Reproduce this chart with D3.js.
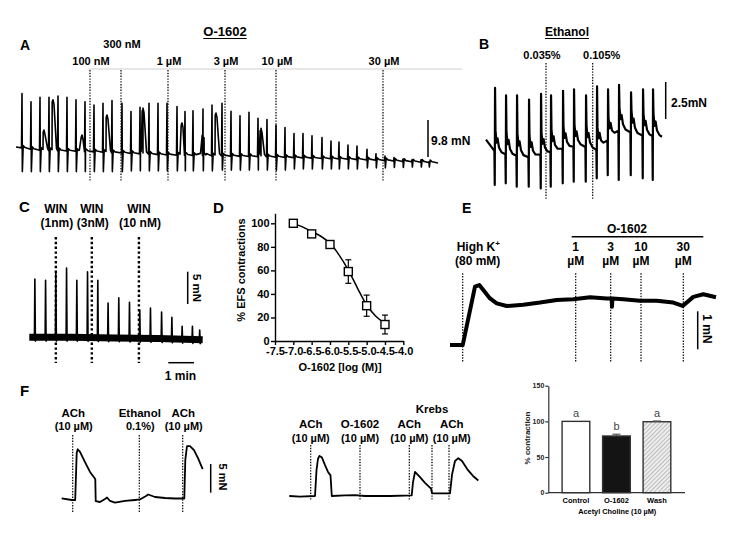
<!DOCTYPE html>
<html>
<head>
<meta charset="utf-8">
<script src="https://cdn.jsdelivr.net/npm/d3@7"></script>
<style>
  body { margin: 0; background: #fff; }
  svg { font-family: "Liberation Sans", Arial, Helvetica, sans-serif; }
</style>
</head>
<body>
<svg id="fig" width="733" height="534"></svg>
<script>
// ---------- panel A : O-1602 on EFS twitches (time in s, force in mN) ----------
const aSpikeT = [6, 15, 24, 33, 42, 51, 60, 69, 78, 87, 96, 106, 115, 124, 133, 142, 151, 161, 169, 177,
  187, 196, 206, 215, 224, 233, 242, 251, 260, 269, 278, 287, 296, 306, 315, 323, 332, 341, 351, 360,
  369, 378, 387, 396, 405, 413];
const aPeak = [21.6, 19.4, 20.6, 20.6, 20.9, 20.6, 19.9, 19.4, 18.5, 19.0, 19.7, 19.0, 16.8, 17.9, 19.0, 19.0,
  19.0, 18.1, 16.8, 17.0, 17.5, 18.5, 19.0, 16.9, 15.7, 16.6, 15.0, 14.7, 13.2, 12.6, 11.0, 11.0, 10.4, 9.9,
  9.0, 8.7, 7.9, 7.7, 6.8, 5.6, 5.0, 4.6, 4.2, 4.0, 4.0, 3.5];
const aTrough = [0.9, 0.9, 0.9, 0.9, 0.9, 0.9, 0.9, 0.9, 0.9, 0.9, 0.9, 0.9, 1.1, 1.1, 1.1, 1.1, 1.1, 1.1,
  1.1, 1.1, 1.1, 1.1, 1.3, 1.3, 1.3, 1.3, 1.3, 1.3, 1.3, 1.3, 1.6, 1.6, 1.6, 1.6, 1.6, 1.6, 1.6, 1.6,
  1.9, 1.9, 1.9, 2.0, 2.0, 2.1, 2.1, 2.1];
const aBaseT = [0, 20, 80, 150, 250, 350, 422];
const aBaseV = [7.4, 6.6, 6.1, 5.3, 4.8, 4.0, 3.2];
const aHumpT = [28, 37, 66, 91, 127, 166, 187, 200, 245];
const aHumpV = [11.9, 19.9, 10.6, 15.9, 17.7, 13.8, 11.1, 16.4, 12.4];
const aDoseLabels = ['100 nM', '300 nM', '1 µM', '3 µM', '10 µM', '30 µM'];
const aDoseT = [74, 105, 152, 209, 260, 367];

// ---------- panel B : ethanol vehicle ----------
const bSpikeT = [9, 20, 31, 43, 55, 65, 77, 88, 100, 111, 122, 133, 145, 157, 167];
const bPeak = [6.9, 6.4, 6.4, 6.1, 6.5, 6.4, 6.7, 6.8, 6.4, 7.0, 6.8, 7.1, 6.6, 6.8, 6.8];
const bTrough = [0.34, 0.45, 0.22, 0.22, 0.11, 0.22, 0.45, 0.56, 0.56, 0.79, 1.0, 0.68, 1.0, 0.79, 0.68];
const bBaseT = [0, 10, 21, 44, 61, 77, 94, 111, 124, 134, 154, 176];
const bBaseV = [3.4, 2.5, 2.4, 2.2, 2.5, 2.8, 3.0, 2.7, 3.5, 4.1, 3.7, 3.6];
const bDoseLabels = ['0.035%', '0.105%'];
const bDoseT = [60, 106.7];

// ---------- panel C : WIN 55,212-2 ----------
const cSpikeT = [13, 38, 62, 87, 111, 136, 160, 184, 209, 234, 258, 283, 309, 333, 357, 381, 398];
const cPeak = [10.2, 10.0, 11.1, 11.9, 10.0, 11.3, 10.0, 6.5, 7.3, 6.6, 5.4, 5.7, 5.1, 4.3, 2.9, 2.9, 2.3];
const cBaseT = [0, 100, 200, 300, 405];
const cBaseV = [1.2, 1.2, 1.1, 1.0, 0.8];
const cDoseTop = ['WIN', 'WIN', 'WIN'];
const cDoseBottom = ['(1nm)', '(3nM)', '(10 nM)'];
const cDoseT = [62, 146, 256];

// ---------- panel D : concentration-response ----------
const dLogC = [-7.0, -6.5, -6.0, -5.5, -5.0, -4.5];
const dMean = [100, 91, 82, 59, 30, 14];
const dSem = [0.5, 2, 2, 10, 9, 8];
const dFitX = [-7.0, -6.75, -6.5, -6.25, -6.0, -5.75, -5.5, -5.25, -5.0, -4.75, -4.5];
const dFitY = [99.5, 97, 93, 89, 83, 73, 60.3, 45, 30.6, 21, 15];
const dXTicks = [-7.5, -7.0, -6.5, -6.0, -5.5, -5.0, -4.5, -4.0];
const dYTicks = [0, 20, 40, 60, 80, 100];

// ---------- panel E : high K+ precontraction ----------
const eT = [0, 12.7, 25, 29.3, 33.3, 40, 46.7, 56.7, 73.3, 90, 106.7, 123.3, 140, 156.7, 161.6, 162,
  162.4, 173.3, 190, 206.7, 223.3, 232.7, 243.3, 253.3, 266];
const eV = [0.11, 0.11, 1.65, 1.69, 1.56, 1.34, 1.21, 1.14, 1.17, 1.23, 1.30, 1.32, 1.37, 1.34, 1.34, 1.12,
  1.34, 1.32, 1.28, 1.28, 1.23, 1.14, 1.38, 1.45, 1.37];
const eDoseTop = ['1', '3', '10', '30'];
const eDoseT = [12.7, 125.7, 160.7, 191, 233.3];

// ---------- panel F : acetylcholine traces ----------
const fLT = [0, 10, 13.5, 15, 16, 18.3, 23.3, 28.3, 33, 33.6, 34, 38.3, 43.3, 45.3, 48.3, 53.3, 63.3, 73.3,
  78.3, 84.3, 86.6, 93.3, 103.3, 113.3, 122.6, 123.6, 125.3, 128.3, 132.3, 136.3, 141];
const fLV = [0.3, 0, 0, 8.2, 8.85, 8.4, 6.6, 4.9, 3.8, 3.6, -0.2, -0.35, 0.17, 0.44, -0.17, -0.44, -0.17, 0,
  0.1, 0.7, 0.96, 0.52, 0.35, 0.26, 0.26, 7.0, 9.4, 9.4, 8.7, 7.3, 5.4];
const fLTop = ['ACh', 'Ethanol', 'ACh'];
const fLBottom = ['(10 µM)', '0.1%)', '(10 µM)'];
const fLDoseT = [11, 77.6, 121];

const fMT = [0, 10.7, 25.7, 27.2, 28.7, 30.2, 32.7, 35.7, 38.7, 41.2, 42.5, 55.7, 65.7, 75.7, 100.7, 122.4,
  123.7, 125.7, 130.7, 135.7, 141.7, 142.7, 150.7, 160.7, 162.7, 165.7, 169, 172.7, 178.7, 183.7, 189];
const fMV = [0, -0.1, 0, 4.5, 6.5, 7.0, 6.7, 5.4, 4.2, 3.6, 0, 0.1, 0.17, 0, 0, 0.1, 2.4, 4.2, 3.3, 2.3,
  1.3, 0.47, 0.47, 0.47, 3.7, 6.1, 6.6, 6.1, 4.5, 3.5, 2.7];
const fMTop = ['ACh', 'O-1602', 'ACh', '', 'ACh'];
const fMBottom = ['(10 µM)', '(10 µM)', '(10 µM)', '', '(10 µM)'];
const fMDoseT = [21.4, 70.7, 120, 142.7, 159.7];

// ---------- panel F : bar chart ----------
const barCats = ['Control', 'O-1602', 'Wash'];
const barVals = [100, 79.5, 99.5];
const barErr = [0, 2.5, 1];
const barLetters = ['a', 'b', 'a'];
const barTicks = [0, 50, 100, 150];

// =====================================================================
const svg = d3.select('#fig');

const defs = svg.append('defs');
const hatch = defs.append('pattern')
  .attr('id', 'hatch')
  .attr('width', 3).attr('height', 3)
  .attr('patternUnits', 'userSpaceOnUse')
  .attr('patternTransform', 'rotate(45)');
hatch.append('rect').attr('width', 3).attr('height', 3).attr('fill', '#eeeeee');
hatch.append('line').attr('x1', 0).attr('y1', 0).attr('x2', 0).attr('y2', 3)
  .attr('stroke', '#9a9a9a').attr('stroke-width', 1.2);

function text(x, y, s, size, opts = {}) {
  const t = svg.append('text')
    .attr('x', x).attr('y', y)
    .attr('font-size', size)
    .attr('font-weight', opts.weight || 'bold')
    .attr('text-anchor', opts.anchor || 'middle')
    .attr('fill', opts.fill || '#000')
    .text(s);
  if (opts.rotate) t.attr('transform', `rotate(${opts.rotate},${x},${y})`);
  if (opts.underline) {
    const w = t.node().getComputedTextLength();
    svg.append('line').attr('x1', x - w / 2).attr('x2', x + w / 2)
      .attr('y1', y + 2.5).attr('y2', y + 2.5).attr('stroke', '#000').attr('stroke-width', 1.2);
  }
  return t;
}

function vline(x, y1, y2, w, dash) {
  const l = svg.append('line').attr('x1', x).attr('x2', x).attr('y1', y1).attr('y2', y2)
    .attr('stroke', '#000').attr('stroke-width', w);
  if (dash) l.attr('stroke-dasharray', dash);
  return l;
}

function hline(x1, x2, y, w, color) {
  return svg.append('line').attr('x1', x1).attr('x2', x2).attr('y1', y).attr('y2', y)
    .attr('stroke', color || '#000').attr('stroke-width', w);
}

function trace(pts, x, y, w) {
  svg.append('path').datum(pts)
    .attr('fill', 'none').attr('stroke', '#000').attr('stroke-width', w)
    .attr('stroke-linejoin', 'round')
    .attr('d', d3.line().x(d => x(d.t)).y(d => y(d.v)));
}

// spike train: template offsets per twitch + optional slow humps on top of a baseline scale
function buildTrace(spT, spP, spTr, base, shape, humpT, humpV, hShape, t0, t1) {
  const pts = [{t: t0, v: base(t0)}];
  spT.forEach((t, i) => {
    shape.forEach(([dt, k, dv]) => {
      let v = base(t + dt) + (dv || 0);
      if (k === 'p') v = spP[i];
      if (k === 'tr') v = spTr[i];
      pts.push({t: t + dt, v});
    });
  });
  (humpT || []).forEach((t, i) => {
    hShape.forEach(([dt, k, dv]) => {
      const v = k === 'h' ? humpV[i] + dv : base(t + dt) + dv;
      pts.push({t: t + dt, v});
    });
  });
  pts.push({t: t1, v: base(t1)});
  return pts.sort((a, b) => a.t - b.t);
}

const zip = (ts, vs) => ts.map((t, i) => ({t, v: vs[i]}));

// ---------------- A ----------------
const xA = d3.scaleLinear([0, 422], [16, 438]);
const yA = d3.scaleLinear([0, 9.8], [175, 138]);
const baseA = d3.scaleLinear(aBaseT, aBaseV);
hline(88, 462, 69, 1, '#cfcfcf');
aDoseT.forEach(t => vline(xA(t), 70, 182, 1.2, '1.4,1.4'));
trace(buildTrace(aSpikeT, aPeak, aTrough, baseA,
  [[-0.5, 'b', 0], [0, 'p'], [0.35, 'tr'], [1.2, 'b', 0.7], [3, 'b', 0.25]],
  aHumpT, aHumpV,
  [[-2.5, 'b', 0.6], [-0.8, 'h', -0.6], [0, 'h', 0], [1, 'h', -1.2], [3.5, 'b', 0.6]],
  0, 422), xA, yA, 1.6);
aDoseLabels.forEach((s, i) => text(xA(aDoseT[i]) + 1, i === 1 ? 48 : 65, s, 11));
text(20, 50, 'A', 14, {anchor: 'start'});
text(225, 36, 'O-1602', 13, {underline: true});
const aBar = yA(0) - yA(9.8);
vline(428, 157 - aBar, 157, 1.5);
text(431, 144.5, '9.8 mN', 12, {anchor: 'start'});

// ---------------- B ----------------
const xB = d3.scaleLinear([0, 176], [486, 662]);
const yB = d3.scaleLinear([0, 2.5], [190, 153]);
const baseB = d3.scaleLinear(bBaseT, bBaseV);
bDoseT.forEach(t => vline(xB(t), 63, 200, 1.2, '1.4,1.4'));
trace(buildTrace(bSpikeT, bPeak, bTrough, baseB,
  [[-0.6, 'b', 0], [-0.25, 'tr'], [0.05, 'p'], [0.5, 'b', 1.5], [1.5, 'b', 0.7], [2.6, 'b', 1.0],
    [4, 'b', 0.4], [6.5, 'b', 0.1]],
  [], [], [], 0, 176), xB, yB, 2.2);
text(xB(bDoseT[0]) - 4, 59, bDoseLabels[0], 11);
text(xB(bDoseT[1]) + 9, 59, bDoseLabels[1], 11);
text(479, 49, 'B', 14, {anchor: 'start'});
text(567, 36, 'Ethanol', 12, {underline: true});
const bBar = yB(0) - yB(2.5);
vline(665.7, 119 - bBar, 119, 1.5);
text(671, 107, '2.5mN', 12, {anchor: 'start'});

// ---------------- C ----------------
const xC = d3.scaleLinear([0, 405], [29.3, 202.7]);
const yC = d3.scaleLinear([0, 5], [345, 312.65]);
const baseC = d3.scaleLinear(cBaseT, cBaseV);
cDoseT.forEach(t => vline(xC(t), 237, 363, 2.4, '2.4,2.4'));
trace(zip(cBaseT, cBaseV), xC, yC, 7);
const cSp = [];
cSpikeT.forEach((t, i) => {
  cSp.push({t: t - 1, v: baseC(t - 1)}, {t, v: cPeak[i]}, {t: t + 1.2, v: baseC(t) - 0.6}, {t: t + 3, v: baseC(t + 3)});
});
trace(cSp, xC, yC, 1.6);
cDoseT.forEach((t, i) => {
  text(xC(t), 213, cDoseTop[i], 12);
  text(xC(t) + 1, 227, cDoseBottom[i], 12);
});
text(19, 212, 'C', 15, {anchor: 'start'});
const cBar = yC(0) - yC(5);
vline(187.7, 271.7, 271.7 + cBar, 1.5);
text(193, 288, '5 mN', 11.5, {rotate: 90});
const cMin = xC(60) - xC(0);
hline(168.3, 168.3 + cMin, 362.7, 1.5);
text(180.5, 380, '1 min', 12);

// ---------------- D ----------------
const xD = d3.scaleLinear([-7.5, -4.0], [275, 403.3]);
const yD = d3.scaleLinear([0, 108.5], [341, 213.3]);
const gDy = svg.append('g').attr('transform', 'translate(275,0)')
  .call(d3.axisLeft(yD).tickValues(dYTicks).tickSize(4).tickSizeOuter(0));
const gDx = svg.append('g').attr('transform', 'translate(0,341)')
  .call(d3.axisBottom(xD).tickValues(dXTicks).tickSize(4).tickSizeOuter(0).tickFormat(d => d.toFixed(1)));
[gDy, gDx].forEach(g => {
  g.selectAll('path,line').attr('stroke', '#000').attr('stroke-width', 1.4);
  g.selectAll('text').attr('font-size', 11).attr('font-weight', 'bold')
    .attr('font-family', '"Liberation Sans", Arial, sans-serif').attr('fill', '#000');
});
gDy.selectAll('text').attr('x', -5.5);
gDx.selectAll('text').attr('y', 6);
svg.append('path').datum(zip(dFitX, dFitY))
  .attr('fill', 'none').attr('stroke', '#000').attr('stroke-width', 1.5)
  .attr('d', d3.line().curve(d3.curveMonotoneX).x(d => xD(d.t)).y(d => yD(d.v)));
dLogC.forEach((c, i) => {
  const x = xD(c);
  vline(x, yD(dMean[i] + dSem[i]), yD(dMean[i] - dSem[i]), 1.2);
  hline(x - 3, x + 3, yD(dMean[i] + dSem[i]), 1.2);
  hline(x - 3, x + 3, yD(dMean[i] - dSem[i]), 1.2);
  svg.append('rect').attr('x', x - 4).attr('y', yD(dMean[i]) - 4).attr('width', 8).attr('height', 8)
    .attr('fill', '#fff').attr('stroke', '#000').attr('stroke-width', 1.4);
});
text(245, 270, '% EFS contractions', 11, {rotate: -90});
text(340, 370.5, 'O-1602 [log (M)]', 11);
text(213, 213, 'D', 15, {anchor: 'start'});

// ---------------- E ----------------
const xE = d3.scaleLinear([0, 266], [450, 716]);
const yE = d3.scaleLinear([0, 1], [349.3, 311.3]);
eDoseT.forEach(t => vline(xE(t), 273.3, 361.7, 1.2, '1.4,1.4'));
trace(zip(eT, eV), xE, yE, 4);
text(462, 213, 'E', 14, {anchor: 'start'});
text(627, 233, 'O-1602', 12);
hline(571.7, 703.3, 236.7, 1.5);
const hk = text(478.3, 251, 'High K', 12);
hk.append('tspan').attr('font-size', 8).attr('dy', -5).text('+');
text(477.7, 265, '(80 mM)', 12);
eDoseTop.forEach((s, i) => {
  text(xE(eDoseT[i + 1]), 251, s, 12);
  text(xE(eDoseT[i + 1]), 265, 'µM', 12);
});
const eBar = yE(0) - yE(1);
vline(697.7, 349.3 - eBar, 349.3, 1.5);
text(703, 329, '1 mN', 12, {rotate: 90});

// ---------------- F traces ----------------
const xFL = d3.scaleLinear([0, 141], [61.7, 202.7]);
const yFL = d3.scaleLinear([0, 5], [500, 471.35]);
fLDoseT.forEach(t => vline(xFL(t), 435, 512, 1.2, '1.4,1.4'));
trace(zip(fLT, fLV), xFL, yFL, 1.8);
fLDoseT.forEach((t, i) => {
  text(xFL(t) + 0.5, 416.5, fLTop[i], 11.5);
  text(xFL(t) + 1, 430, fLBottom[i], 11);
});
const fBar = yFL(0) - yFL(5);
vline(210.7, 464, 464 + fBar, 1.5);
text(218.5, 477, '5 mN', 11, {rotate: 90});
text(20, 395.5, 'F', 15, {anchor: 'start'});

const xFM = d3.scaleLinear([0, 189], [289.3, 478.3]);
const yFM = d3.scaleLinear([0, 5], [496, 467.35]);
fMDoseT.forEach(t => vline(xFM(t), 445, 500, 1.2, '1.4,1.4'));
trace(zip(fMT, fMV), xFM, yFM, 1.8);
fMDoseT.forEach((t, i) => {
  if (!fMTop[i]) return;
  const dx = i === 4 ? 2.7 : 0;
  text(xFM(t) + dx, 428.3, fMTop[i], 11.5);
  text(xFM(t) + dx, 442, fMBottom[i], 11);
});
text(xFM(fMDoseT[3]), 413, 'Krebs', 11.5);

// ---------------- F bar chart ----------------
const xBar = d3.scaleBand().domain(barCats).range([555.7, 677.2]).paddingInner(0.316).paddingOuter(0.158);
const yBar = d3.scaleLinear([0, 150], [492.7, 385.7]);
const barFill = ['#ffffff', '#141414', 'url(#hatch)'];
svg.selectAll('.bar').data(barCats).enter().append('rect')
  .attr('class', 'bar')
  .attr('x', d => xBar(d))
  .attr('y', (d, i) => yBar(barVals[i]))
  .attr('width', xBar.bandwidth())
  .attr('height', (d, i) => yBar(0) - yBar(barVals[i]))
  .attr('fill', (d, i) => barFill[i])
  .attr('stroke', '#333').attr('stroke-width', 1.4);
barCats.forEach((c, i) => {
  const cx = xBar(c) + xBar.bandwidth() / 2;
  if (barErr[i] > 0) {
    svg.append('line').attr('x1', cx).attr('x2', cx)
      .attr('y1', yBar(barVals[i])).attr('y2', yBar(barVals[i] + barErr[i]))
      .attr('stroke', '#555').attr('stroke-width', 1.2);
    hline(cx - 4, cx + 4, yBar(barVals[i] + barErr[i]), 1.2, '#555');
  }
  text(cx, yBar(barVals[i] + barErr[i]) - 4.5, barLetters[i], 11, {weight: 'normal', fill: '#444'});
  text(cx, 503, c, 7.5);
});
const gBy = svg.append('g').attr('transform', 'translate(548.3,0)')
  .call(d3.axisLeft(yBar).tickValues(barTicks).tickSize(3).tickSizeOuter(0));
gBy.selectAll('path,line').attr('stroke', '#333').attr('stroke-width', 1.2);
gBy.selectAll('text').attr('font-size', 7).attr('font-weight', 'bold')
  .attr('font-family', '"Liberation Sans", Arial, sans-serif').attr('fill', '#222').attr('x', -4);
hline(548.3, 685, 492.7, 1.2, '#333');
text(617.3, 514, 'Acetyl Choline (10 µM)', 7.3);
text(530, 438, '% contraction', 8, {rotate: -90, fill: '#222'});
</script>
</body>
</html>
